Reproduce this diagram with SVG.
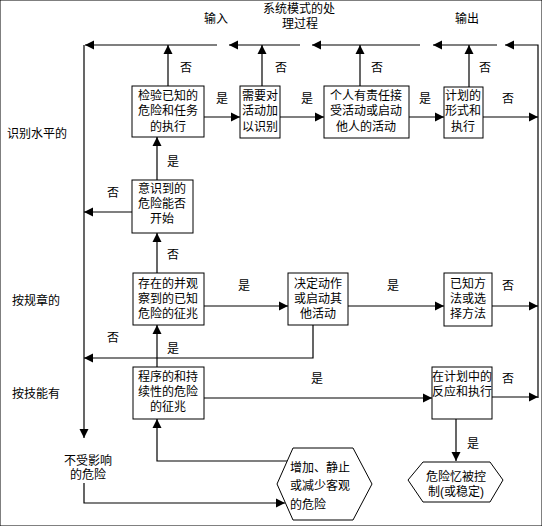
<svg xmlns="http://www.w3.org/2000/svg" width="542" height="526" viewBox="0 0 542 526">
<defs>
<marker id="a" viewBox="0 0 10 10" refX="10" refY="5" markerWidth="9" markerHeight="10" markerUnits="userSpaceOnUse" orient="auto"><path d="M0,0 L10,5 L0,10 z" fill="#000"/></marker>
<style>
text{font-family:"Liberation Sans","Noto Sans CJK SC",sans-serif;font-size:12px;fill:#000}
.c{text-anchor:middle}
rect,polygon{fill:#fff;stroke:#000;stroke-width:1}
#conn path{fill:none;stroke:#000;stroke-width:1.2;marker-end:url(#a)}
</style>
</defs>
<rect x="0" y="0" width="542" height="526" fill="#fff" stroke="none"/>
<g id="titles">
<text class="c" x="299" y="13">系统模式的处</text>
<text class="c" x="300" y="28">理过程</text>
<text class="c" x="216" y="23">输入</text>
<text class="c" x="467" y="23">输出</text>
<text x="7" y="138">识别水平的</text>
<text x="12" y="305">按规章的</text>
<text x="12" y="398">按技能有</text>
<text class="c" x="88" y="465">不受影响</text>
<text class="c" x="88" y="479">的危险</text>
</g>
<g id="conn">
<path d="M217,45 H85"/>
<path d="M300,45 H229"/>
<path d="M420,45 H312"/>
<path d="M497,45 H433"/>
<path d="M538,398 V45 H505"/>
<path d="M168,86 V45"/>
<path d="M262,86 V45"/>
<path d="M360,86 V45"/>
<path d="M469,87 V45"/>
<path d="M204,117 H240"/>
<path d="M280,117 H324"/>
<path d="M409,117 H444"/>
<path d="M483,117 H538"/>
<path d="M84,45 V438"/>
<path d="M132,212 H84"/>
<path d="M157,180 V137"/>
<path d="M157,273 V233"/>
<path d="M157,367 V325"/>
<path d="M313,325 V358 H84"/>
<path d="M204,306 H288"/>
<path d="M348,306 H444"/>
<path d="M492,306 H538"/>
<path d="M204,398 H432"/>
<path d="M492,397 H538"/>
<path d="M456,419 V461"/>
<path d="M287,461 H157 V419"/>
<path d="M84,483 V503 H285"/>
<text class="c" x="186" y="72">否</text>
<text class="c" x="281" y="72">否</text>
<text class="c" x="377" y="72">否</text>
<text class="c" x="485" y="72">否</text>
<text class="c" x="222" y="103">是</text>
<text class="c" x="307" y="103">是</text>
<text class="c" x="425" y="103">是</text>
<text class="c" x="508" y="103">否</text>
<text class="c" x="173" y="166">是</text>
<text class="c" x="113" y="197">否</text>
<text class="c" x="173" y="259">否</text>
<text class="c" x="244" y="290">是</text>
<text class="c" x="393" y="290">是</text>
<text class="c" x="508" y="290">否</text>
<text class="c" x="113" y="342">否</text>
<text class="c" x="173" y="353">是</text>
<text class="c" x="317" y="383">是</text>
<text class="c" x="508" y="383">否</text>
<text class="c" x="473" y="448">是</text>
</g>
<g id="n1"><rect x="132" y="86" width="72" height="51"/>
<text class="c" x="168" y="100">检验已知的</text><text class="c" x="168" y="115">危险和任务</text><text class="c" x="168" y="131">的执行</text></g>
<g id="n2"><rect x="240" y="86" width="40" height="52"/>
<text class="c" x="260" y="100">需要对</text><text class="c" x="260" y="115">活动加</text><text class="c" x="260" y="131">以识别</text></g>
<g id="n3"><rect x="324" y="86" width="85" height="52"/>
<text class="c" x="366" y="100">个人有责任接</text><text class="c" x="366" y="115">受活动或启动</text><text class="c" x="366" y="131">他人的活动</text></g>
<g id="n4"><rect x="444" y="87" width="39" height="51"/>
<text class="c" x="463" y="100">计划的</text><text class="c" x="463" y="115">形式和</text><text class="c" x="463" y="131">执行</text></g>
<g id="n5"><rect x="132" y="180" width="61" height="53"/>
<text class="c" x="162" y="193">意识到的</text><text class="c" x="162" y="208">危险能否</text><text class="c" x="162" y="223">开始</text></g>
<g id="n6"><rect x="133" y="273" width="71" height="52"/>
<text class="c" x="168" y="288">存在的并观</text><text class="c" x="168" y="303">察到的已知</text><text class="c" x="168" y="318">危险的征兆</text></g>
<g id="n7"><rect x="288" y="273" width="60" height="52"/>
<text class="c" x="318" y="288">决定动作</text><text class="c" x="318" y="303">或启动其</text><text class="c" x="318" y="318">他活动</text></g>
<g id="n8"><rect x="444" y="273" width="48" height="53"/>
<text class="c" x="468" y="288">已知方</text><text class="c" x="468" y="303">法或选</text><text class="c" x="468" y="318">择方法</text></g>
<g id="n9"><rect x="133" y="367" width="71" height="52"/>
<text class="c" x="168" y="381">程序的和持</text><text class="c" x="168" y="396">续性的危险</text><text class="c" x="168" y="411">的征兆</text></g>
<g id="n10"><rect x="432" y="367" width="60" height="52"/>
<text class="c" x="462" y="381">在计划中的</text><text class="c" x="462" y="396">反应和执行</text></g>
<g id="n11"><polygon points="277,484 293,448 353,448 372,484 353,520 293,520"/>
<text x="290" y="472">增加、静止</text><text x="290" y="490">或减少客观</text><text x="290" y="509">的危险</text></g>
<g id="n12"><polygon points="408,480 423,462 490,462 503,480 490,502 423,502"/>
<text class="c" x="456" y="481">危险忆被控</text><text class="c" x="456" y="496">制(或稳定)</text></g>
</svg>
